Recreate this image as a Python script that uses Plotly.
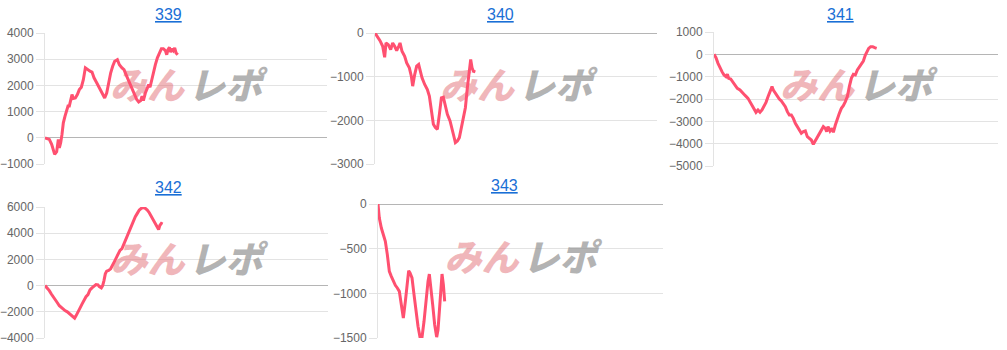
import plotly.graph_objects as go

# ---------------- data ----------------
titles = ["339", "340", "341", "342", "343"]

games_339 = [0,123,189,274,331,378,407,445,482,520,568,615,653,690,728,766,804,861,918,974,
             1031,1088,1145,1201,1277,1334,1391,1466,1542,1618,1693,1750,1807,1864,1920,1977,
             2053,2110,2185,2242,2299,2374,2450,2526,2602,2658,2715,2753,2791,2847,2904,2942,
             2980,3018,3075,3131,3188,3245,3302,3358,3415,3453,3491,3529,3566,3604,3642,3680,3718,3765]
diff_339 = [0,-60,-250,-630,-530,-60,-380,-190,130,570,830,1080,1210,1210,1400,1650,1500,1520,1650,1840,
            1930,2220,2670,2600,2540,2510,2290,2100,1900,1710,1520,1710,2160,2480,2730,2920,
            2980,2790,2670,2600,2410,2160,1900,1710,1460,1370,1420,1590,1420,1710,1900,2030,
            1930,2160,2480,2790,3050,3240,3400,3400,3330,3170,3370,3450,3270,3400,3330,3430,3240,3170]

games_340 = [0,66,142,218,274,312,378,445,501,558,615,672,710,766,842,899,974,1031,1069,1126,
             1182,1239,1277,1334,1410,1485,1542,1599,1656,1712,1769,1826,1883,1939,1996,2053,
             2129,2185,2223,2280,2337,2393,2450,2507,2564,2620,2677,2715,2753,2791,2847]
diff_340 = [0,-76,-175,-304,-555,-228,-266,-380,-228,-304,-403,-304,-228,-418,-532,-684,-798,-989,-1217,-951,
            -760,-722,-875,-1027,-1179,-1293,-1445,-1787,-2091,-2167,-2205,-1863,-1483,-1468,-1673,-1863,
            -2015,-2167,-2319,-2510,-2471,-2395,-2167,-1939,-1711,-1255,-837,-608,-798,-875,-890]

games_341 = [0,56,113,169,225,282,338,376,413,470,526,582,657,732,808,883,958,1014,1070,1127,
             1183,1239,1296,1352,1408,1465,1521,1578,1634,1671,1728,1784,1840,1897,1953,2009,
             2066,2122,2178,2235,2291,2348,2404,2460,2517,2573,2629,2686,2742,2798,2855,2911,
             2967,3024,3080,3136,3174,3211,3268,3324,3362,3418,3474,3531,3587,3643,3700,3756,
             3812,3869,3925,3981,4038,4094,4150,4207,4263,4301,4357,4413,4470,4526,4582]
diff_341 = [0,-149,-403,-627,-776,-925,-1000,-896,-1075,-1104,-1224,-1343,-1522,-1597,-1746,-1851,-1970,-2119,-2269,-2418,
            -2597,-2493,-2597,-2493,-2343,-2149,-1896,-1672,-1448,-1597,-1746,-1851,-2000,-2090,-2194,-2343,
            -2567,-2716,-2716,-2866,-3090,-3239,-3388,-3537,-3463,-3433,-3687,-3761,-3836,-4030,-3881,-3731,
            -3582,-3433,-3239,-3313,-3463,-3239,-3433,-3313,-3493,-3164,-2866,-2642,-2418,-2299,-2119,-1896,
            -1448,-1075,-896,-925,-701,-552,-403,-299,-30,119,269,343,343,299,269]

games_342 = [0,66,122,179,236,292,349,405,462,518,575,631,688,744,801,838,876,933,989,1046,
             1102,1159,1215,1272,1328,1385,1441,1498,1535,1592,1630,1667,1705,1743,1799,1856,
             1912,1969,2025,2082,2120,2176,2214,2270,2327,2383,2440,2496,2553,2609,2666,2722,
             2779,2835,2892,2948,3005,3062,3118,3175,3212,3250,3288,3325]
diff_342 = [0,-179,-385,-641,-897,-1103,-1308,-1538,-1667,-1821,-1923,-2000,-2128,-2282,-2436,-2487,-2308,-2051,-1718,-1410,
            -1103,-846,-692,-333,-179,-26,77,51,-77,-179,0,385,897,1103,1154,1282,
            1538,1872,2179,2487,2692,2821,3077,3462,3846,4231,4615,4872,5256,5513,5769,5897,
            5949,5897,5769,5564,5308,5051,4795,4487,4282,4615,4744,4692]

games_343 = [0,37,94,150,206,262,318,374,431,487,543,599,655,711,768,824,861,899,955,1011,
             1067,1123,1179,1236,1292,1348,1404,1441,1479,1535,1591,1647,1685,1722,1760,1797,1835,1872]
diff_343 = [0,-157,-269,-343,-418,-567,-754,-810,-866,-910,-940,-978,-1127,-1276,-1090,-884,-746,-772,-828,-1015,
            -1201,-1369,-1490,-1490,-1313,-1052,-866,-784,-903,-1127,-1351,-1490,-1407,-1164,-903,-784,-903,-1090]

y_ranges = [(-1000, 4000), (-3000, 0), (-5000, 1000), (-4000, 6000), (-1500, 0)]
y_dticks = [1000, 1000, 1000, 2000, 500]
games_max = 8000

series_games = [games_339, games_340, games_341, games_342, games_343]
series_diff = [diff_339, diff_340, diff_341, diff_342, diff_343]

# ---------------- layout geometry (pixels) ----------------
W, H = 1007, 350
plot_boxes = [  # (left, right, top, bottom)
    (45, 327, 33, 164),
    (375, 657, 33, 164),
    (714, 998, 32, 166),
    (45, 328, 207, 338),
    (378, 663, 204, 338),
]
title_pos = [(168, 14), (500, 14), (840, 14), (168, 187), (504, 185)]

LINE_COLOR = "#ff5070"
GRID = "#e3e3e3"
ZERO = "#b5b5b5"

fig = go.Figure()
layout = dict(
    template="none",
    width=W, height=H, autosize=False,
    margin=dict(l=0, r=0, t=0, b=0, pad=0, autoexpand=False),
    paper_bgcolor="white", plot_bgcolor="white",
    showlegend=False, hovermode=False,
    annotations=[],
)

for i in range(5):
    n = "" if i == 0 else str(i + 1)
    xa, ya = "x" + n, "y" + n
    l, r, t, b = plot_boxes[i]
    y0, y1 = y_ranges[i]

    # watermark (drawn before the line so the line is on top)
    wm_y = y1 - 0.43 * (y1 - y0)
    off = 39 / (r - l) * games_max
    fig.add_trace(go.Scatter(
        x=[games_max / 2 - off, games_max / 2 + off], y=[wm_y, wm_y],
        mode="text", text=["みん", "レポ"],
        textfont=dict(family="Noto Sans CJK JP", size=37, weight=900, style="italic",
                      color=["rgba(225,110,118,0.5)", "rgba(150,150,150,0.72)"]),
        xaxis=xa, yaxis=ya, hoverinfo="skip",
    ))
    fig.add_trace(go.Scatter(
        x=series_games[i], y=series_diff[i], mode="lines",
        line=dict(color=LINE_COLOR, width=3), xaxis=xa, yaxis=ya,
    ))

    layout["xaxis" + n] = dict(
        domain=[l / W, r / W], range=[0, games_max], anchor=ya, automargin=False,
        showgrid=False, zeroline=False, showline=False, showticklabels=False, ticks="",
    )
    layout["yaxis" + n] = dict(
        domain=[1 - b / H, 1 - t / H], range=[y0, y1], anchor=xa, automargin=False,
        dtick=y_dticks[i], tick0=0,
        showgrid=True, gridcolor=GRID, gridwidth=1,
        zeroline=True, zerolinecolor=ZERO, zerolinewidth=1,
        showline=True, linecolor=GRID, linewidth=1,
        ticks="outside", ticklen=8, tickcolor=GRID,
        tickfont=dict(family="Liberation Sans, Arial", size=12, color="#666666"),
    )
    tx, ty = title_pos[i]
    layout["annotations"].append(dict(
        text="<u>" + titles[i] + "</u>", x=tx / W, y=1 - ty / H,
        xref="paper", yref="paper", xanchor="center", yanchor="middle",
        showarrow=False,
        font=dict(family="Liberation Sans, Arial", size=16, color="#1a6fd6"),
    ))

fig.update_layout(**layout)
fig.write_html("out.html")
